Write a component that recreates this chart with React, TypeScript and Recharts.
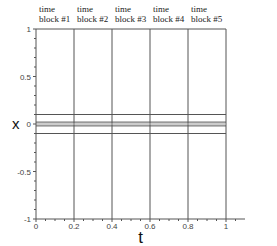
import React from 'react';
import {
  ComposedChart,
  XAxis,
  YAxis,
  ReferenceLine,
  ReferenceArea,
  Label
} from 'recharts';

// block edges along t
const blockStarts = [0, 0.2, 0.4, 0.6, 0.8];
const blockEnds = [0.2, 0.4, 0.6, 0.8, 1];
const blockLabels = ['block #1', 'block #2', 'block #3', 'block #4', 'block #5'];

// horizontal traces across all blocks (x values)
const traceLevels = [0.1, 0.02, 0, -0.02, -0.1];
const traceColors = ['#555', '#555', '#999', '#555', '#555'];

const xMajorTicks = [0, 0.2, 0.4, 0.6, 0.8, 1];
const xAllTicks = [0, 0.05, 0.1, 0.15, 0.2, 0.25, 0.3, 0.35, 0.4, 0.45, 0.5, 0.55, 0.6, 0.65, 0.7, 0.75, 0.8, 0.85, 0.9, 0.95, 1, 1.05];
const yMajorTicks = [-1, -0.5, 0, 0.5, 1];
const yAllTicks = [-1, -0.9, -0.8, -0.7, -0.6, -0.5, -0.4, -0.3, -0.2, -0.1, 0, 0.1, 0.2, 0.3, 0.4, 0.5, 0.6, 0.7, 0.8, 0.9, 1];

const AXIS = '#555';
const TICK_FONT = '"Liberation Sans", Arial, sans-serif';

const isMajor = (list: number[], v: number) => list.some((m) => Math.abs(m - v) < 1e-9);

const XTick = (props: any) => {
  const { x, y, payload } = props;
  const major = isMajor(xMajorTicks, payload.value);
  return (
    <g>
      <line x1={x} x2={x} y1={y} y2={y + (major ? 3 : 2)} stroke={AXIS} />
      {major && (
        <text x={x} y={y + 10} textAnchor="middle" fontSize={8} fill="#444" fontFamily={TICK_FONT}>
          {payload.value}
        </text>
      )}
    </g>
  );
};

const YTick = (props: any) => {
  const { x, y, payload } = props;
  const major = isMajor(yMajorTicks, payload.value);
  return (
    <g>
      <line x1={x - (major ? 3 : 2)} x2={x} y1={y} y2={y} stroke={AXIS} />
      {major && (
        <text x={x - 5} y={y + 3} textAnchor="end" fontSize={8} fill="#444" fontFamily={TICK_FONT}>
          {payload.value}
        </text>
      )}
    </g>
  );
};

const BlockLabel = (props: any) => {
  const { viewBox, value } = props;
  const x = viewBox.x + 3;
  const y = viewBox.y;
  return (
    <g fontSize={9} fill="#222" fontFamily='"Liberation Serif", "Times New Roman", serif'>
      <text x={x} y={y - 17}>time</text>
      <text x={x} y={y - 7}>{value}</text>
    </g>
  );
};

export default function App() {
  return (
    <div style={{ position: 'absolute', left: 0, top: 0, background: '#fff' }}>
      <ComposedChart
        width={277}
        height={246}
        data={[]}
        margin={{ top: 29, right: 32, bottom: 0, left: 0 }}
      >
        <XAxis
          type="number"
          dataKey="t"
          domain={[0, 1.1]}
          ticks={xAllTicks}
          interval={0}
          tick={<XTick />}
          tickLine={false}
          tickSize={0}
          tickMargin={0}
          axisLine={{ stroke: AXIS }}
          height={27}
          allowDataOverflow
        >
          <Label
            value="t"
            position="insideBottom"
            offset={3}
            fontSize={17}
            fill="#111"
            fontFamily={TICK_FONT}
          />
        </XAxis>
        <YAxis
          type="number"
          domain={[-1, 1]}
          ticks={yAllTicks}
          interval={0}
          tick={<YTick />}
          tickLine={false}
          tickSize={0}
          tickMargin={0}
          axisLine={{ stroke: AXIS }}
          width={36}
          allowDataOverflow
        >
          <Label
            value="x"
            position="insideLeft"
            offset={12}
            fontSize={15}
            fill="#111"
            fontFamily={TICK_FONT}
          />
        </YAxis>
        {blockStarts.map((s, i) => (
          <ReferenceArea
            key={'a' + i}
            x1={s}
            x2={blockEnds[i]}
            y1={-1}
            y2={1}
            fill="none"
            stroke="none"
            label={<BlockLabel value={blockLabels[i]} />}
          />
        ))}
        <ReferenceLine
          segment={[{ x: 0, y: 1 }, { x: 1, y: 1 }]}
          stroke={AXIS}
        />
        {blockEnds.map((e) => (
          <ReferenceLine key={'v' + e} x={e} stroke={AXIS} />
        ))}
        {traceLevels.map((v, i) => (
          <ReferenceLine
            key={'h' + i}
            segment={[{ x: 0, y: v }, { x: 1, y: v }]}
            stroke={traceColors[i]}
          />
        ))}
      </ComposedChart>
    </div>
  );
}
